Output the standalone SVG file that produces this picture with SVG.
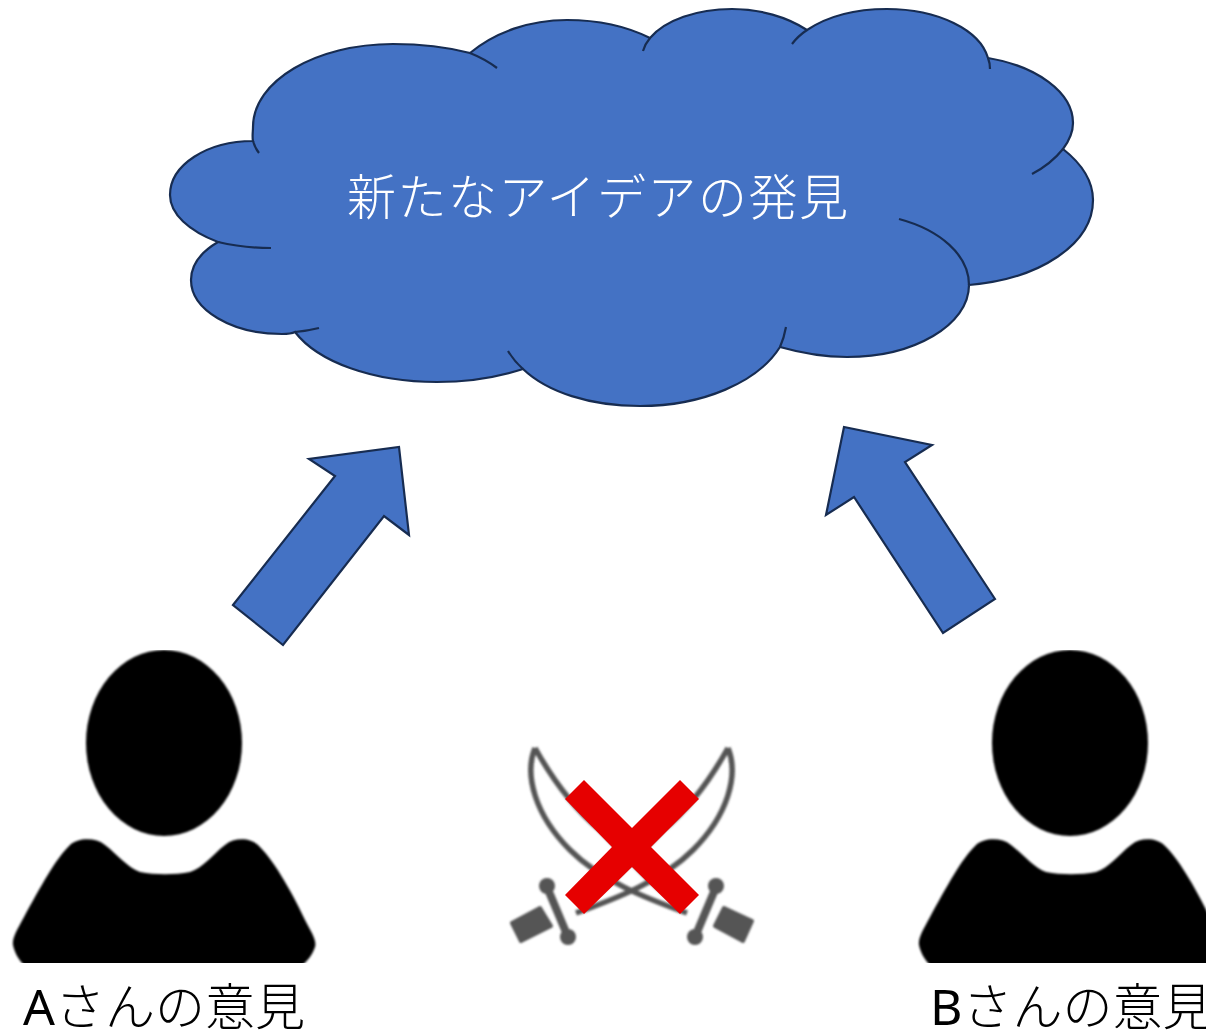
<svg xmlns="http://www.w3.org/2000/svg" width="1206" height="1032" viewBox="0 0 1206 1032">
<defs>
<style>
.shape{fill:#4472C4;stroke:#172C51;stroke-width:2.2;stroke-linejoin:miter}
.hook{fill:none;stroke:#172C51;stroke-width:2.2}
.t{font-family:"Noto Sans","Noto Sans CJK JP",sans-serif;font-weight:300;font-size:50px}
.lat{font-weight:400}
.sw{fill:none;stroke:#555;stroke-width:5.5}
.sq{fill:#555;stroke:#555;stroke-width:4;stroke-linejoin:round}
</style>
<filter id="soft" x="-5%" y="-5%" width="110%" height="110%"><feGaussianBlur stdDeviation="1"/></filter>
<clipPath id="pa"><rect x="0" y="650" width="1206" height="313"/></clipPath>
<g id="person"><g clip-path="url(#pa)"><g filter="url(#soft)">
<ellipse cx="164" cy="743" rx="78" ry="93"/>
<path d="M13,945 C12,938 17,930 24,917 C40,888 56,858 70,845 C78,838 95,837 105,845 C118,855 128,868 140,872 C155,875 175,875 190,872 C203,868 212,855 225,845 C235,837 250,838 258,845 C272,858 290,888 305,920 C311,932 317,940 315,947 C312,956 305,965 295,970 L30,970 C22,965 15,955 13,945 Z"/>
</g></g></g>
</defs>
<rect width="1206" height="1032" fill="#fff"/>
<g id="connectors">
<polygon class="shape" points="233,605 335,476 309,459 399,447 409,535 384,516 283,645"/>
<polygon class="shape" points="995,599 905,462 932,445 844,427 826,515 854,497 943,633"/>
</g>
<g id="cloud">
<path class="shape" d="M253,141 C252,136 253,132 253,127 C253,81 316,44 393,44 C420,44 447,47 470,53 C495,32 530,20 567,20 C600,20 628,27 650,38 C665,20 697,9 732,9 C760,9 787,17 807,30 C828,16 856,9 887,9 C938,9 980,30 988,58 C1036,66 1073,92 1073,123 C1073,132 1069,141 1063,149 C1082,164 1093,181 1093,200 C1093,244 1040,279 969,285 C969,325 914,357 847,357 C824,357 801,353 780,347 C758,382 703,406 640,406 C590,406 547,392 523,369 C498,377 468,382 437,382 C373,382 318,362 295,332 C291,334 286,334 282,334 C232,334 191,310 191,280 C191,265 201,252 218,242 C189,231 170,214 170,195 C170,165 207,141 253,141 Z"/>
<path class="hook" d="M253,141 Q255,148 259,153 M470,53 Q485,59 497,68 M650,38 Q645,44 643,51 M807,30 Q798,36 792,44 M988,58 Q990,63 990,69 M1063,149 Q1051,164 1032,174 M969,285 C969,255 940,230 899,219 M780,347 Q784,338 786,327 M523,369 Q514,361 508,351 M295,332 Q307,331 319,328 M218,242 Q243,248 271,248"/>
<text class="t" x="347" y="215" fill="#fff" style="font-size:49px;letter-spacing:1.5px">新たなアイデアの発見</text>
</g>
<g id="person-a"><use href="#person"/><text class="t" x="23" y="1025" fill="#000"><tspan class="lat">A</tspan>さんの意見</text></g>
<g id="person-b"><use href="#person" x="906"/><text class="t" x="930" y="1025" fill="#000"><tspan class="lat">B</tspan>さんの意見</text></g>
<g id="swords">
<g filter="url(#soft)">
<path class="sw" d="M535,748 C524,775 535,815 570,850 C600,880 645,898 687,913 M535,748 C550,775 570,805 600,830 C630,860 655,888 683,908"/>
<path class="sw" d="M728,748 C739,775 728,815 693,850 C663,880 618,898 576,913 M728,748 C713,775 693,805 663,830 C633,860 608,888 580,908"/>
<path d="M547,887 L568,937 M716,887 L695,937" stroke="#555" stroke-width="8" fill="none"/>
<g fill="#555">
<circle cx="547" cy="886" r="8"/><circle cx="568" cy="937" r="8"/>
<circle cx="716" cy="886" r="8"/><circle cx="695" cy="937" r="8"/>
</g>
<polygon class="sq" points="512,923 540,908 551,926 521,941"/>
<polygon class="sq" points="724,908 752,921 743,941 715,926"/>
</g>
<polygon fill="#E60000" points="584,780 632,828 680,780 699,799 651,847 699,895 680,914 632,867 584,914 565,895 612,847 565,799"/>
</g>
</svg>
